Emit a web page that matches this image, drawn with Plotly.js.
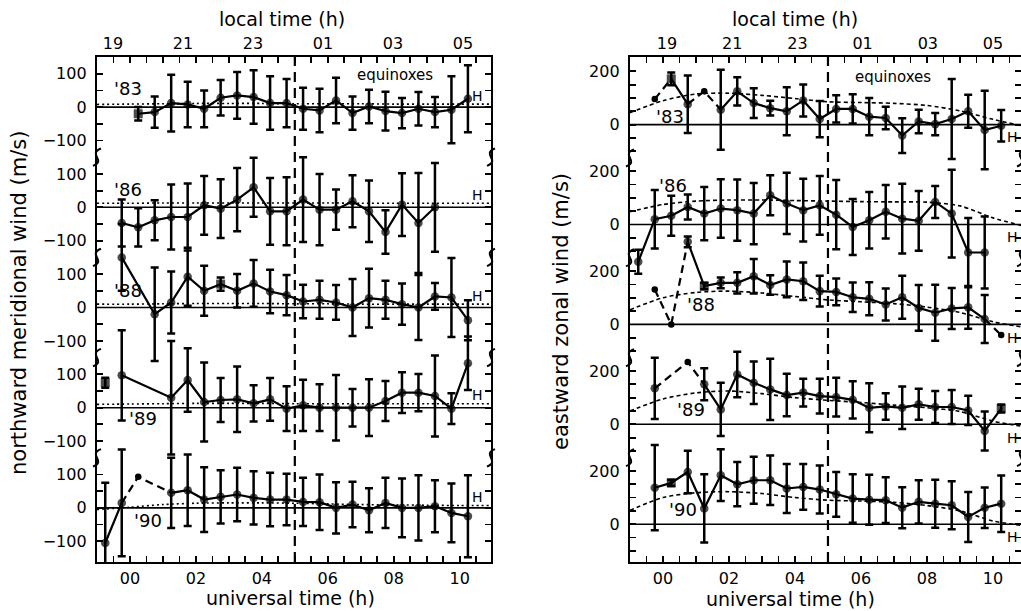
<!DOCTYPE html>
<html><head><meta charset="utf-8">
<script src="https://cdn.plot.ly/plotly-3.0.1.min.js"></script>
<style>html,body{margin:0;padding:0;background:#fff;} #chart{width:1021px;height:611px;}</style>
</head><body><div id="chart"></div>
<script>
// ---------------- DATA ----------------
const UT = [-0.75,-0.25,0.25,0.75,1.25,1.75,2.25,2.75,3.25,3.75,4.25,4.75,5.25,5.75,6.25,6.75,7.25,7.75,8.25,8.75,9.25,9.75,10.25];
const UT_TICKS = [0,2,4,6,8,10];
const UT_LABELS = ['00','02','04','06','08','10'];
const LT_TICKS = [19,21,23,25,27,29];
const LT_LABELS = ['19','21','23','01','03','05'];
const YEAR_LABELS = ["'83","'86","'88","'89","'90"];
const MODEL_UT = [-1,0,1,2,3,4,5,6,7,8,9,10,10.9];

// northward meridional wind (m/s)
const mer83    = [null,null,-20,-15,12,8,-5,28,35,30,12,12,-5,-10,20,-18,2,-12,-18,-5,-15,-8,25];
const mer83Err = [null,null,20,47,85,68,55,53,70,80,80,72,63,65,68,50,50,58,45,50,45,100,100];
const mer86    = [null,-47,-60,-39,-29,-29,6,-4,23,60,-12,-12,23,-7,-7,18,-12,-74,8,-47,0,null,null];
const mer86Err = [null,70,57,60,97,100,88,88,95,88,100,102,127,107,60,78,92,65,94,150,133,null,null];
const mer88    = [null,150,null,-20,15,92,50,70,50,72,48,37,18,23,15,0,28,23,10,0,33,30,-38];
const mer88Err = [null,100,null,140,93,87,75,20,50,70,65,60,50,57,52,85,88,57,62,97,40,118,60];
const mer89    = [75,97,null,null,30,83,17,23,25,13,25,-3,7,0,0,0,0,20,45,45,35,-3,133];
const mer89Err = [15,135,null,null,170,95,118,66,98,54,64,67,77,70,98,56,85,60,61,56,121,46,80];
const mer90    = [-105,15,93,null,45,53,25,33,40,30,25,25,18,17,0,10,-7,15,0,0,5,-15,-25];
const mer90Err = [180,160,null,null,105,107,97,80,80,80,80,77,72,83,77,68,66,75,88,98,78,88,123];
const mer83Model = [8,9,10,11,11,11,10,10,10,9,9,9,9];
const mer86Model = [12,12,13,13,13,13,13,13,12,12,12,12,12];
const mer88Model = [10,10,11,12,12,12,11,11,10,10,10,10,10];
const mer89Model = [10,11,12,13,13,13,12,12,12,12,12,12,12];
const mer90Model = [-5,2,10,14,15,15,14,12,10,9,8,7,7];
const mer88Squares = [2.75];
const mer83Squares = [0.25];
const mer89Squares = [-0.75];
const mer89Unlinked = [-0.75];
const mer90Dashed = [[-0.25,0.25,1.25]];

// eastward zonal wind (m/s)
const zon83    = [null,96,172,77,125,56,125,81,62,50,91,21,59,59,30,25,-41,12,2,21,50,-20,-4];
const zon83Err = [null,null,24,108,null,150,53,56,28,90,60,68,51,55,70,42,65,44,42,150,62,147,59];
const zon86    = [-140,20,33,66,41,60,54,41,110,79,54,72,37,-9,16,48,22,14,85,41,-105,-105,null];
const zon86Err = [45,110,75,47,100,110,115,115,75,115,118,110,130,105,106,100,131,112,60,165,130,135,null];
const zon88    = [null,131,0,310,144,156,156,181,148,169,162,125,122,102,96,75,102,62,44,60,64,20,-40];
const zon88Err = [null,null,null,20,12,20,40,65,37,67,70,58,50,55,62,60,81,86,105,77,80,90,null];
const zon89    = [null,135,null,234,150,56,187,156,131,110,119,106,102,92,62,67,62,75,65,65,52,-25,59];
const zon89Err = [null,115,null,null,60,100,85,80,115,80,52,65,73,70,92,50,80,58,60,64,55,73,15];
const zon90    = [null,137,155,196,59,184,150,165,165,134,140,130,112,96,92,90,62,84,77,71,27,62,77];
const zon90Err = [null,160,12,80,128,97,83,88,93,92,86,90,84,91,94,86,77,81,90,90,94,76,106];
const zon83Model = [45,90,115,118,110,98,86,83,80,72,52,20,-5];
const zon86Model = [48,75,88,92,92,90,88,86,85,84,70,25,-5];
const zon88Model = [55,100,120,125,118,105,92,85,78,65,45,10,-10];
const zon89Model = [50,95,118,125,115,100,90,82,72,62,48,12,-8];
const zon90Model = [52,100,118,122,115,100,90,87,82,70,50,12,-5];
const zon83Squares = [0.25];
const zon88Squares = [1.25];
const zon89Squares = [10.25];
const zon90Squares = [0.25];
const zon83Dashed = [[-0.25,0.25],[0.75,1.25,1.75]];
const zon88Dashed = [[-0.25,0.25,0.75],[9.75,10.25]];
const zon89Dashed = [[-0.25,0.75,1.25]];

// ---------------- BUILD ----------------
const merSeries = [
  {v:mer83,e:mer83Err,m:mer83Model,dashed:[],unlinked:[],squares:mer83Squares},
  {v:mer86,e:mer86Err,m:mer86Model,dashed:[],unlinked:[],squares:[]},
  {v:mer88,e:mer88Err,m:mer88Model,dashed:[],unlinked:[],squares:mer88Squares},
  {v:mer89,e:mer89Err,m:mer89Model,dashed:[],unlinked:mer89Unlinked,squares:mer89Squares},
  {v:mer90,e:mer90Err,m:mer90Model,dashed:mer90Dashed,unlinked:[],squares:[]}
];
const zonSeries = [
  {v:zon83,e:zon83Err,m:zon83Model,dashed:zon83Dashed,unlinked:[],squares:zon83Squares},
  {v:zon86,e:zon86Err,m:zon86Model,dashed:[],unlinked:[],squares:[]},
  {v:zon88,e:zon88Err,m:zon88Model,dashed:zon88Dashed,unlinked:[],squares:zon88Squares},
  {v:zon89,e:zon89Err,m:zon89Model,dashed:zon89Dashed,unlinked:[],squares:zon89Squares},
  {v:zon90,e:zon90Err,m:zon90Model,dashed:[],unlinked:[],squares:zon90Squares}
];

const FONT = 'DejaVu Sans, Liberation Sans, sans-serif';
const W = 1021;
const traces = [];
const shapes = [];
const annotations = [];

function buildPanel(series, P){
  series.forEach((s,k)=>{
    const off = P.step*(4-k);
    traces.push({x:MODEL_UT, y:s.m.map(v=>v+off), xaxis:P.xa, yaxis:P.ya, mode:'lines',
      line:{color:'black', width:1.6, dash:P.modelDash, shape:'spline', smoothing:0.8}, hoverinfo:'skip'});
    const pts=[];
    UT.forEach((u,i)=>{ if(s.v[i]!==null) pts.push({u:u, v:s.v[i], e:s.e[i]}); });
    const isDash=(a,b)=>s.dashed.some(seg=>{const i=seg.indexOf(a); return i>=0 && seg[i+1]===b;});
    const sx=[], sy=[];
    for(let j=0;j<pts.length-1;j++){
      const a=pts[j], b=pts[j+1];
      if(isDash(a.u,b.u) || s.unlinked.includes(a.u) || s.unlinked.includes(b.u)) continue;
      if(sx.length && sx[sx.length-1]===a.u){ sx.push(b.u); sy.push(b.v+off); }
      else { if(sx.length){sx.push(null); sy.push(null);} sx.push(a.u,b.u); sy.push(a.v+off,b.v+off); }
    }
    traces.push({x:sx, y:sy, xaxis:P.xa, yaxis:P.ya, mode:'lines', line:{color:'black', width:2.2}, hoverinfo:'skip'});
    s.dashed.forEach(seg=>{
      traces.push({x:seg, y:seg.map(u=>s.v[UT.indexOf(u)]+off), xaxis:P.xa, yaxis:P.ya, mode:'lines',
        line:{color:'black', width:2.2, dash:'8px,5px'}, hoverinfo:'skip'});
    });
    const ep = pts.filter(p=>p.e!==null);
    traces.push({x:ep.map(p=>p.u), y:ep.map(p=>p.v+off), xaxis:P.xa, yaxis:P.ya, mode:'markers',
      marker:{color:'black', size:ep.map(p=>s.squares.includes(p.u)?9:8.5), symbol:ep.map(p=>s.squares.includes(p.u)?'square':'circle'),
        line:{width:0}},
      error_y:{type:'data', array:ep.map(p=>p.e), visible:true, color:'black', thickness:2.5, width:4}, hoverinfo:'skip'});
    const dp = pts.filter(p=>p.e===null);
    if(dp.length) traces.push({x:dp.map(p=>p.u), y:dp.map(p=>p.v+off), xaxis:P.xa, yaxis:P.ya, mode:'markers',
      marker:{color:'black', size:6.5}, hoverinfo:'skip'});
    shapes.push({type:'line', xref:P.xa+' domain', yref:P.ya, x0:0, x1:1, y0:off, y1:off, line:{color:'black', width:1.6}});
    annotations.push({xref:P.xa, yref:P.ya, x:P.yearPos[k][0], y:P.yearPos[k][1]+off, text:YEAR_LABELS[k], showarrow:false,
      xanchor:'center', yanchor:'middle', font:{family:FONT, size:18, color:'black'}});
    annotations.push({xref:P.xa, yref:P.ya, x:P.hX, y:s.m[s.m.length-1]+P.hDy+off, text:'H', showarrow:false,
      xanchor:'center', yanchor:'middle', font:{family:FONT, size:14, color:'black'}});
    if(k<4){
      const yb = off - P.brk;
      P.dom.forEach(xe=>{
        const a=4/W, h=P.brkH;
        shapes.push({type:'path', xref:'paper', yref:P.ya, layer:'above',
          path:`M ${xe+a},${yb+h} C ${xe-2.5*a},${yb+h*0.35} ${xe+2.5*a},${yb-h*0.35} ${xe-a},${yb-h}`,
          line:{color:'black', width:2}});
      });
    }
  });
  shapes.push({type:'line', xref:P.xa, yref:P.ya+' domain', x0:5, x1:5, y0:0, y1:1, line:{color:'black', width:2.2, dash:'10px,6px'}});
  annotations.push({xref:P.xa, yref:P.ya, x:P.eqPos[0], y:P.eqPos[1], text:'equinoxes', showarrow:false,
    xanchor:'center', yanchor:'middle', font:{family:FONT, size:15, color:'black'}});
  traces.push({x:[LT_TICKS[0]], y:[0], xaxis:P.ltAxis, yaxis:P.ya, mode:'markers', marker:{opacity:0}, hoverinfo:'skip'});
}

const dL=[97/W, 491/W], dR=[630/W, 1];
const LEFT = {xa:'x', ya:'y', ltAxis:'x2', step:300, range:[-1,10.95], dom:dL, modelDash:'2px,3px',
  yearPos:[[-0.05,57],[-0.05,54],[-0.05,51],[0.4,-33],[0.55,-38]], hX:10.55, hDy:25, brk:150, brkH:26,
  eqPos:[8.05,1296]};
const RIGHT = {xa:'x3', ya:'y2', ltAxis:'x4', step:375, range:[-1,10.85], dom:dR, modelDash:'4px,3px',
  yearPos:[[0.2,30],[0.3,145],[1.15,75],[0.85,56],[0.6,55]], hX:10.6, hDy:-42, brk:125, brkH:32,
  eqPos:[6.97,1680]};
buildPanel(merSeries, LEFT);
buildPanel(zonSeries, RIGHT);

function yTicks(step, ds, labelMap){
  const tv=[], tt=[];
  for(let k=0;k<5;k++){ const off=step*(4-k);
    ds.forEach(d=>{ tv.push(off+d); tt.push(labelMap[d]!==undefined?labelMap[d]:''); }); }
  return {tv, tt};
}
const yl = yTicks(300, [-100,-50,0,50,100], {'-100':'\u2212100','0':'0','100':'100'});
const yr = yTicks(375, [-100,-50,0,50,100,150,200], {'0':'0','200':'200'});

function xTicks(lo, hi){
  const tv=[], tt=[];
  for(let t=Math.ceil(lo*2)/2; t<=hi; t+=0.5){ tv.push(t); const i=UT_TICKS.indexOf(t); tt.push(i>=0?UT_LABELS[i]:''); }
  return {tv, tt};
}

const axBase = {showline:true, linewidth:2.2, linecolor:'black', mirror:'ticks', ticks:'inside', ticklen:6, tickwidth:1.8,
  tickcolor:'black', showgrid:false, zeroline:false, tickfont:{family:FONT, size:16, color:'black'}, ticklabelstandoff:5};
const xBottom = (dom, rng, anchor)=>{ const t=xTicks(rng[0]+0.2, rng[1]-0.1);
  return Object.assign({}, axBase, {domain:dom, range:rng, anchor:anchor, tickmode:'array', tickvals:t.tv, ticktext:t.tt, ticklabelstandoff:1}); };
const xTop = (dom, rng, over, anchor)=>({domain:dom, range:rng, overlaying:over, anchor:anchor, side:'top',
  tickmode:'array', tickvals:LT_TICKS, ticktext:LT_LABELS, ticks:'', showline:false, showgrid:false, zeroline:false,
  tickfont:{family:FONT, size:16, color:'black'}, ticklabelstandoff:4});

const pa = (x,y,text,size,angle)=>({xref:'paper', yref:'paper', x:x/W, y:(562-y)/505, text:text, showarrow:false,
  xanchor:'center', yanchor:'middle', textangle:angle||0, font:{family:FONT, size:size, color:'black'}});
const layout = {
  width:1021, height:611, margin:{l:0,r:0,t:57,b:49}, paper_bgcolor:'white', plot_bgcolor:'rgba(0,0,0,0)',
  showlegend:false, font:{family:FONT, color:'black'},
  xaxis: xBottom(dL, LEFT.range, 'y'),
  xaxis2: xTop(dL, [18.543,29.8], 'x', 'y'),
  xaxis3: xBottom(dR, RIGHT.range, 'y2'),
  xaxis4: xTop(dR, [17.865,29.859], 'x3', 'y2'),
  yaxis: Object.assign({}, axBase, {domain:[0,1], anchor:'x', range:[-162,1350], tickmode:'array', tickvals:yl.tv, ticktext:yl.tt}),
  yaxis2: Object.assign({}, axBase, {domain:[0,1], anchor:'x3', range:[-142,1754], tickmode:'array', tickvals:yr.tv, ticktext:yr.tt}),
  shapes: shapes,
  annotations: annotations.concat([
    pa(282,19,'local time (h)',19), pa(795,19,'local time (h)',19),
    pa(290,598,'universal time (h)',19), pa(790,599,'universal time (h)',19),
    pa(19,303,'northward meridional wind (m/s)',21,-90), pa(561,312,'eastward zonal wind (m/s)',21,-90)
  ])
};
Plotly.newPlot('chart', traces, layout, {staticPlot:true, displayModeBar:false});
</script></body></html>
